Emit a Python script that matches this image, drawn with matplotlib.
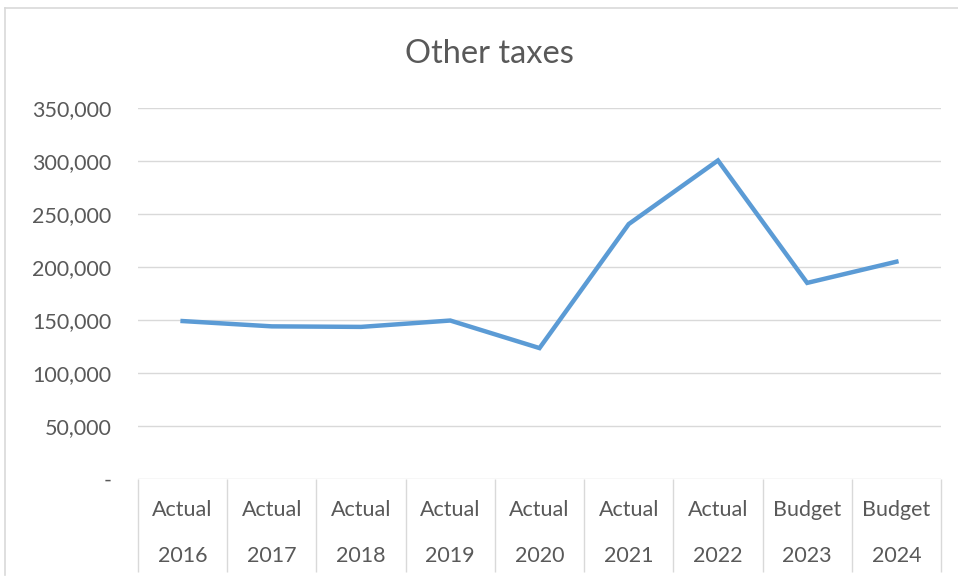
import matplotlib
matplotlib.use("Agg")
import matplotlib.pyplot as plt
from matplotlib.ticker import FuncFormatter

plt.rcParams["font.family"] = ["Lato", "DejaVu Sans"]

# Data
kinds = ["Actual", "Actual", "Actual", "Actual", "Actual", "Actual", "Actual", "Budget", "Budget"]
years = ["2016", "2017", "2018", "2019", "2020", "2021", "2022", "2023", "2024"]
values = [149000, 144000, 143500, 149500, 123500, 240500, 300500, 185000, 205000]
yticks = [0, 50000, 100000, 150000, 200000, 250000, 300000, 350000]

TEXT = "#595959"
GRID = "#D9D9D9"
LINE = "#5B9BD5"

fig = plt.figure(figsize=(9.58, 5.82), dpi=100)
ax = fig.add_axes([138 / 958, 1 - 479 / 582, (941 - 138) / 958, (479 - 108) / 582])

x = list(range(len(values)))
ax.plot(x, values, color=LINE, linewidth=3.2, solid_joinstyle="miter", zorder=3)

ax.set_xlim(-0.5, len(values) - 0.5)
ax.set_ylim(0, 350000)
ax.set_yticks(yticks)
ax.yaxis.set_major_formatter(FuncFormatter(lambda v, _: "-" if v == 0 else f"{v:,.0f}"))
ax.tick_params(axis="y", length=0, pad=19, labelsize=15.5, labelcolor=TEXT)
ax.set_xticks([])
ax.grid(axis="y", color=GRID, linewidth=1)
ax.set_axisbelow(True)
for s in ax.spines.values():
    s.set_visible(False)

# category table under the axis
xt = ax.get_xaxis_transform()
ax.vlines([i - 0.5 for i in range(len(values) + 1)], -0.25, 0, transform=xt,
          color=GRID, linewidth=1, clip_on=False)
for i, (k, y) in enumerate(zip(kinds, years)):
    ax.text(i, -0.084, k, transform=xt, ha="center", va="center", fontsize=15.5, color=TEXT)
    ax.text(i, -0.207, y, transform=xt, ha="center", va="center", fontsize=15.5, color=TEXT)

fig.text(489 / 958, 1 - 54 / 582, "Other taxes", ha="center", va="center",
         fontsize=23.5, color=TEXT)

# outer chart border
fig.add_artist(plt.Line2D([5 / 958, 5 / 958], [1 - 575 / 582, 1 - 8 / 582],
                          transform=fig.transFigure, color=GRID, linewidth=1.2))
fig.add_artist(plt.Line2D([5 / 958, 1], [1 - 8 / 582, 1 - 8 / 582],
                          transform=fig.transFigure, color=GRID, linewidth=1.2))

fig.savefig("out.png", dpi=100)
